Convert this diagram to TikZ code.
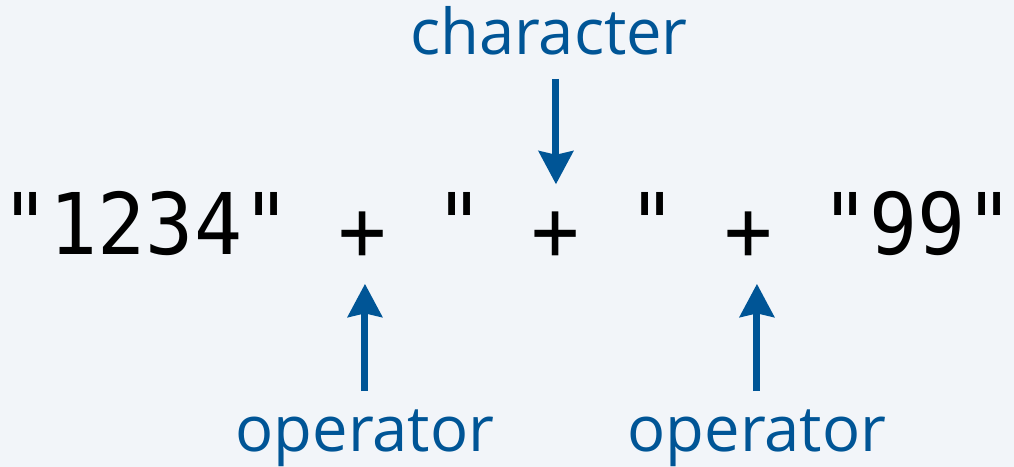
\documentclass[tikz,border=0pt]{standalone}
\usepackage{xcolor}
\usepackage{fontspec}
\usepackage{tikz}
\usetikzlibrary{arrows.meta}

\newfontfamily\codefont[FakeStretch=0.94]{DejaVu Sans Mono}
\newfontfamily\tagfont{Open Sans}

\definecolor{bg}{RGB}{242,245,249}
\definecolor{ink}{RGB}{0,85,150}

\tikzset{
  code/.style={font={\codefont\fontsize{24.2pt}{28pt}\selectfont}, inner sep=0pt,
    anchor=base, text height=17.6pt, text depth=0pt},
  tag/.style={font={\tagfont\fontsize{18pt}{22pt}\selectfont}, text=ink, inner sep=0pt,
    anchor=base, text height=13.5pt, text depth=4pt},
  pointer/.style={draw=ink, line width=2pt, -{Stealth[width=9.7pt,length=9.4pt,inset=1pt]}}
}

\begin{document}
\begin{tikzpicture}[x=0.01cm, y=-0.01cm]

\fill[bg] (0,0) rectangle (1014,467);

% the expression, one cell is 48.25 wide
% (the + signs sit a little lower than the math axis)
\node[code] (lhs) at (145.9,255) {"1234"};
\node[code] (plusA) at (363,261) {+};
\node[code] (quoteA) at (459.5,255) {"};
\node[code] (plusB) at (556,261) {+};
\node[code] (quoteB) at (652.5,255) {"};
\node[code] (plusC) at (749,261) {+};
\node[code] (rhs) at (917.75,255) {"99"};

% labels
\node[tag] (chr) at (549,55) {character};
\node[tag] (opA) at (365,452) {operator};
\node[tag] (opC) at (757,452) {operator};

\draw[pointer, shorten <=2.6pt, shorten >=4pt] (chr.south -| plusB) -- (plusB.north);
\draw[pointer, shorten <=3.6pt, shorten >=6.3pt] (opA.north) -- (opA.north |- plusA.south);
\draw[pointer, shorten <=3.6pt, shorten >=6.3pt] (opC.north) -- (opC.north |- plusC.south);

\end{tikzpicture}
\end{document}
